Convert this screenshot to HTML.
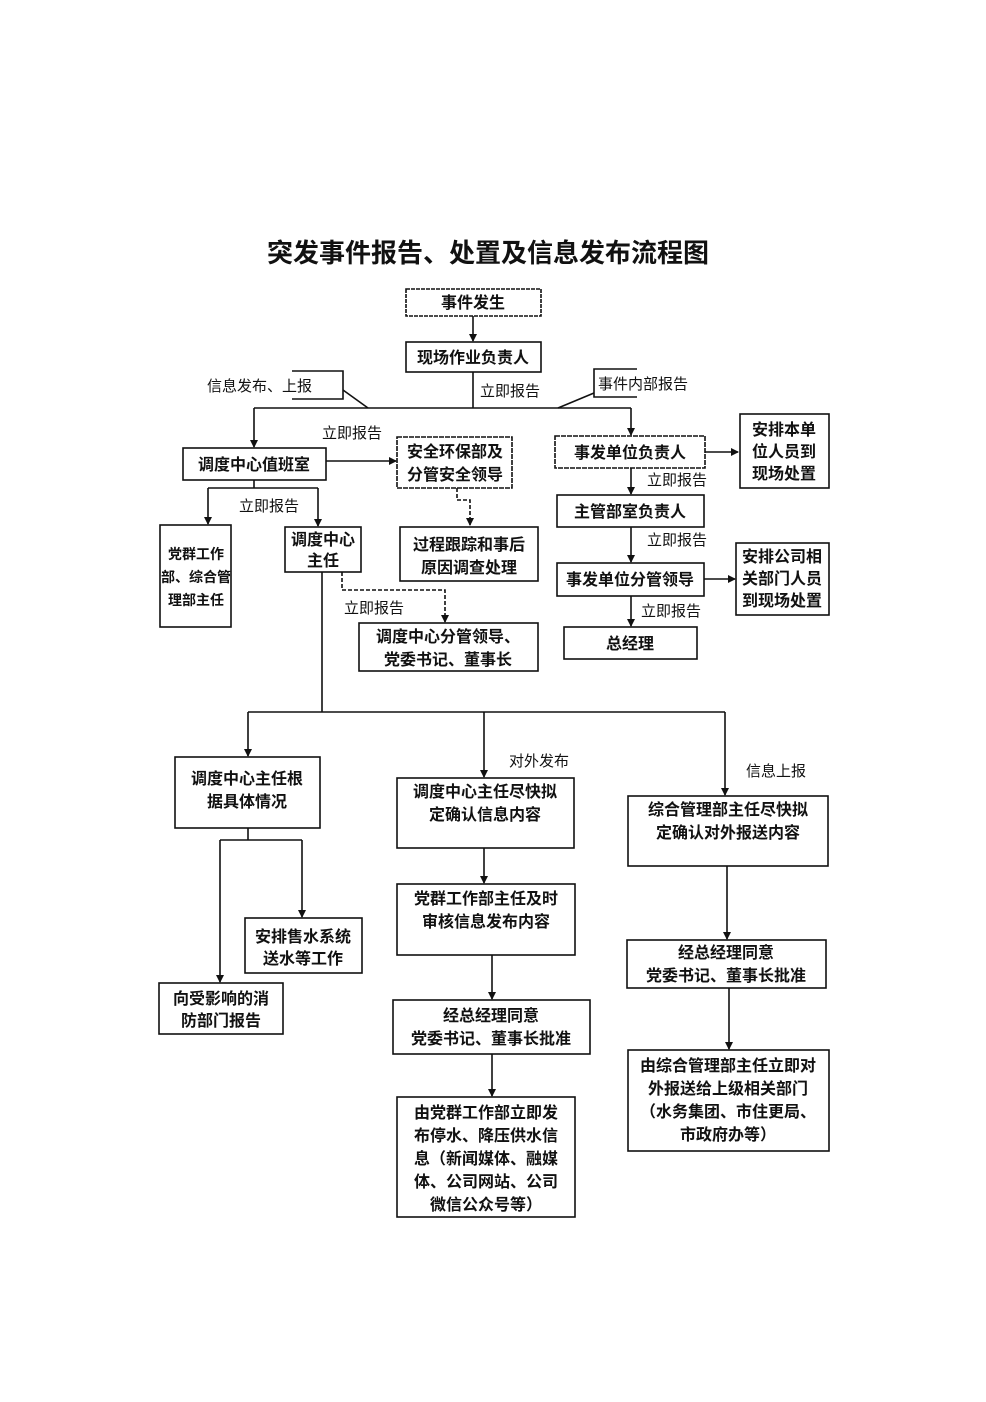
<!DOCTYPE html>
<html><head><meta charset="utf-8"><style>
html,body{margin:0;padding:0;background:#fff;}
svg{display:block;}
text{font-family:"Liberation Sans","Noto Sans CJK SC","WenQuanYi Zen Hei",sans-serif;fill:#111;}
.b{font-size:16px;font-weight:bold;}
.l{font-size:15px;}
</style></head><body>
<svg width="986" height="1402" viewBox="0 0 986 1402" xmlns="http://www.w3.org/2000/svg">
<defs><marker id="a" markerWidth="8" markerHeight="8" refX="7" refY="4" orient="auto" markerUnits="userSpaceOnUse"><path d="M0,0 L8,4 L0,8 z" fill="#111"/></marker></defs>
<text x="488" y="262" text-anchor="middle" style="font-size:26px;font-weight:bold">突发事件报告、处置及信息发布流程图</text>
<g fill="none" stroke="#111" stroke-width="1.6">
<rect x="406" y="289" width="135" height="27" stroke-dasharray="4,1"/>
<rect x="406" y="342" width="135" height="30"/>
<rect x="183" y="448" width="143" height="32"/>
<rect x="397" y="437" width="115" height="51" stroke-dasharray="5,1"/>
<rect x="400" y="527" width="138" height="54"/>
<rect x="160" y="525" width="71" height="102"/>
<rect x="285" y="527" width="76" height="45"/>
<rect x="359" y="623" width="179" height="48"/>
<rect x="555" y="436" width="150" height="32" stroke-dasharray="5,1"/>
<rect x="740" y="414" width="89" height="74"/>
<rect x="557" y="495" width="147" height="32"/>
<rect x="557" y="563" width="147" height="33"/>
<rect x="736" y="543" width="93" height="72"/>
<rect x="564" y="627" width="133" height="32"/>
<rect x="175" y="757" width="145" height="71"/>
<rect x="245" y="918" width="117" height="55"/>
<rect x="159" y="983" width="124" height="51"/>
<rect x="397" y="778" width="177" height="70"/>
<rect x="397" y="884" width="178" height="71"/>
<rect x="393" y="1000" width="197" height="54"/>
<rect x="397" y="1097" width="178" height="120"/>
<rect x="628" y="796" width="200" height="70"/>
<rect x="627" y="940" width="199" height="48"/>
<rect x="628" y="1050" width="201" height="101"/>
<path d="M292,371 H343 V399 H292"/>
<path d="M637,369 H594 V397 H637"/>
<path d="M343,390 L368,408"/>
<path d="M594,393 L558,408"/>
<path d="M473,316 V341" marker-end="url(#a)"/>
<path d="M473,372 V408 M254,408 H631"/>
<path d="M254,408 V447" marker-end="url(#a)"/>
<path d="M631,408 V435" marker-end="url(#a)"/>
<path d="M326,461 H396" marker-end="url(#a)"/>
<path d="M457,488 V500 H470 V525" stroke-dasharray="4,2" marker-end="url(#a)"/>
<path d="M254,480 V488 M208,488 H318"/>
<path d="M208,488 V524" marker-end="url(#a)"/>
<path d="M318,488 V526" marker-end="url(#a)"/>
<path d="M342,572 V590 H445 V622" stroke-dasharray="4,2" marker-end="url(#a)"/>
<path d="M322,572 V712 M248,712 H725"/>
<path d="M705,452 H738" marker-end="url(#a)"/>
<path d="M631,468 V494" marker-end="url(#a)"/>
<path d="M631,527 V562" marker-end="url(#a)"/>
<path d="M704,579 H735" marker-end="url(#a)"/>
<path d="M631,596 V626" marker-end="url(#a)"/>
<path d="M248,712 V756" marker-end="url(#a)"/>
<path d="M484,712 V777" marker-end="url(#a)"/>
<path d="M725,712 V795" marker-end="url(#a)"/>
<path d="M248,828 V840 M220,840 H302"/>
<path d="M302,840 V917" marker-end="url(#a)"/>
<path d="M220,840 V982" marker-end="url(#a)"/>
<path d="M484,848 V883" marker-end="url(#a)"/>
<path d="M492,955 V999" marker-end="url(#a)"/>
<path d="M492,1054 V1096" marker-end="url(#a)"/>
<path d="M727,866 V939" marker-end="url(#a)"/>
<path d="M729,988 V1049" marker-end="url(#a)"/>
</g>
<g class="b" text-anchor="middle">
<text x="473" y="308">事件发生</text>
<text x="473" y="363">现场作业负责人</text>
<text x="254" y="470">调度中心值班室</text>
<text x="455" y="457">安全环保部及</text><text x="455" y="480">分管安全领导</text>
<text x="469" y="550">过程跟踪和事后</text><text x="469" y="573">原因调查处理</text>
<g style="font-size:14px"><text x="196" y="559">党群工作</text><text x="196" y="582">部、综合管</text><text x="196" y="605">理部主任</text></g>
<text x="323" y="545">调度中心</text><text x="323" y="566">主任</text>
<text x="448" y="642">调度中心分管领导、</text><text x="448" y="665">党委书记、董事长</text>
<text x="630" y="458">事发单位负责人</text>
<text x="784" y="435">安排本单</text><text x="784" y="457">位人员到</text><text x="784" y="479">现场处置</text>
<text x="630" y="517">主管部室负责人</text>
<text x="630" y="585">事发单位分管领导</text>
<text x="782" y="562">安排公司相</text><text x="782" y="584">关部门人员</text><text x="782" y="606">到现场处置</text>
<text x="630" y="649">总经理</text>
<text x="247" y="784">调度中心主任根</text><text x="247" y="807">据具体情况</text>
<text x="303" y="942">安排售水系统</text><text x="303" y="964">送水等工作</text>
<text x="221" y="1004">向受影响的消</text><text x="221" y="1026">防部门报告</text>
<text x="485" y="797">调度中心主任尽快拟</text><text x="485" y="820">定确认信息内容</text>
<text x="486" y="904">党群工作部主任及时</text><text x="486" y="927">审核信息发布内容</text>
<text x="491" y="1021">经总经理同意</text><text x="491" y="1044">党委书记、董事长批准</text>
<text x="486" y="1118">由党群工作部立即发</text><text x="486" y="1141">布停水、降压供水信</text><text x="486" y="1164">息（新闻媒体、融媒</text><text x="486" y="1187">体、公司网站、公司</text><text x="486" y="1210">微信公众号等）</text>
<text x="728" y="815">综合管理部主任尽快拟</text><text x="728" y="838">定确认对外报送内容</text>
<text x="726" y="958">经总经理同意</text><text x="726" y="981">党委书记、董事长批准</text>
<text x="728" y="1071">由综合管理部主任立即对</text><text x="728" y="1094">外报送给上级相关部门</text><text x="728" y="1117">（水务集团、市住更局、</text><text x="728" y="1140">市政府办等）</text>
</g>
<g class="l">
<text x="207" y="391">信息发布、上报</text>
<text x="598" y="389">事件内部报告</text>
<text x="480" y="396">立即报告</text>
<text x="322" y="438">立即报告</text>
<text x="239" y="511">立即报告</text>
<text x="344" y="613">立即报告</text>
<text x="647" y="485">立即报告</text>
<text x="647" y="545">立即报告</text>
<text x="641" y="616">立即报告</text>
<text x="509" y="766">对外发布</text>
<text x="746" y="776">信息上报</text>
</g>
</svg>
</body></html>
